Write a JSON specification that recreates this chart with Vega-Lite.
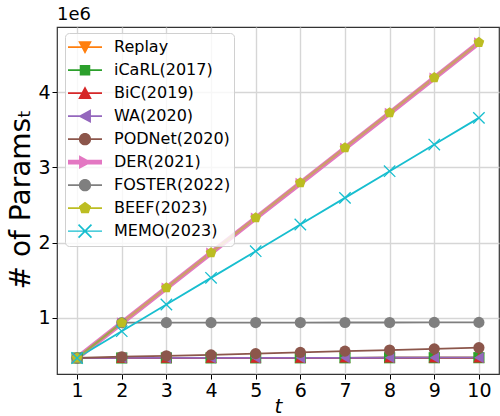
{
  "$schema": "https://vega.github.io/schema/vega-lite/v6.json",
  "width": 442,
  "height": 347,
  "autosize": {"type": "none"},
  "padding": {"left": 57, "top": 27, "right": 1, "bottom": 42},
  "background": "white",
  "title": {"text": "1e6", "anchor": "start", "frame": "group", "fontSize": 18, "fontWeight": "normal", "font": "DejaVu Sans", "color": "black", "offset": 3},
  "config": {
    "font": "DejaVu Sans",
    "view": {"stroke": "#333333", "strokeWidth": 1.2},
    "axis": {"domain": false, "grid": true, "gridColor": "#d6d6d6", "gridWidth": 1.4, "tickColor": "black", "tickSize": 5, "tickWidth": 1, "labelFont": "DejaVu Sans", "labelFontSize": 19, "labelColor": "black", "labelPadding": 2, "titleColor": "black", "titleFont": "DejaVu Sans", "titleFontWeight": "normal"}
  },
  "data": {"values": [
    {"method": "Replay", "t": 1, "params": 463000}, {"method": "Replay", "t": 2, "params": 463000}, {"method": "Replay", "t": 3, "params": 463000}, {"method": "Replay", "t": 4, "params": 463000}, {"method": "Replay", "t": 5, "params": 463000}, {"method": "Replay", "t": 6, "params": 463000}, {"method": "Replay", "t": 7, "params": 463000}, {"method": "Replay", "t": 8, "params": 463000}, {"method": "Replay", "t": 9, "params": 463000}, {"method": "Replay", "t": 10, "params": 463000},
    {"method": "iCaRL(2017)", "t": 1, "params": 463000}, {"method": "iCaRL(2017)", "t": 2, "params": 463500}, {"method": "iCaRL(2017)", "t": 3, "params": 464000}, {"method": "iCaRL(2017)", "t": 4, "params": 464500}, {"method": "iCaRL(2017)", "t": 5, "params": 465000}, {"method": "iCaRL(2017)", "t": 6, "params": 465500}, {"method": "iCaRL(2017)", "t": 7, "params": 466000}, {"method": "iCaRL(2017)", "t": 8, "params": 466500}, {"method": "iCaRL(2017)", "t": 9, "params": 467000}, {"method": "iCaRL(2017)", "t": 10, "params": 467500},
    {"method": "BiC(2019)", "t": 1, "params": 463000}, {"method": "BiC(2019)", "t": 2, "params": 463500}, {"method": "BiC(2019)", "t": 3, "params": 464000}, {"method": "BiC(2019)", "t": 4, "params": 464500}, {"method": "BiC(2019)", "t": 5, "params": 465000}, {"method": "BiC(2019)", "t": 6, "params": 465500}, {"method": "BiC(2019)", "t": 7, "params": 466000}, {"method": "BiC(2019)", "t": 8, "params": 466500}, {"method": "BiC(2019)", "t": 9, "params": 467000}, {"method": "BiC(2019)", "t": 10, "params": 467500},
    {"method": "WA(2020)", "t": 1, "params": 463000}, {"method": "WA(2020)", "t": 2, "params": 463500}, {"method": "WA(2020)", "t": 3, "params": 464000}, {"method": "WA(2020)", "t": 4, "params": 464500}, {"method": "WA(2020)", "t": 5, "params": 465000}, {"method": "WA(2020)", "t": 6, "params": 465500}, {"method": "WA(2020)", "t": 7, "params": 466000}, {"method": "WA(2020)", "t": 8, "params": 466500}, {"method": "WA(2020)", "t": 9, "params": 467000}, {"method": "WA(2020)", "t": 10, "params": 467500},
    {"method": "PODNet(2020)", "t": 1, "params": 463000}, {"method": "PODNet(2020)", "t": 2, "params": 480000}, {"method": "PODNet(2020)", "t": 3, "params": 492000}, {"method": "PODNet(2020)", "t": 4, "params": 505000}, {"method": "PODNet(2020)", "t": 5, "params": 521000}, {"method": "PODNet(2020)", "t": 6, "params": 538000}, {"method": "PODNet(2020)", "t": 7, "params": 554000}, {"method": "PODNet(2020)", "t": 8, "params": 569000}, {"method": "PODNet(2020)", "t": 9, "params": 585000}, {"method": "PODNet(2020)", "t": 10, "params": 600000},
    {"method": "DER(2021)", "t": 1, "params": 463000}, {"method": "DER(2021)", "t": 2, "params": 930000}, {"method": "DER(2021)", "t": 3, "params": 1395000}, {"method": "DER(2021)", "t": 4, "params": 1860000}, {"method": "DER(2021)", "t": 5, "params": 2325000}, {"method": "DER(2021)", "t": 6, "params": 2790000}, {"method": "DER(2021)", "t": 7, "params": 3255000}, {"method": "DER(2021)", "t": 8, "params": 3722000}, {"method": "DER(2021)", "t": 9, "params": 4190000}, {"method": "DER(2021)", "t": 10, "params": 4660000},
    {"method": "FOSTER(2022)", "t": 1, "params": 463000}, {"method": "FOSTER(2022)", "t": 2, "params": 933000}, {"method": "FOSTER(2022)", "t": 3, "params": 934000}, {"method": "FOSTER(2022)", "t": 4, "params": 934000}, {"method": "FOSTER(2022)", "t": 5, "params": 935000}, {"method": "FOSTER(2022)", "t": 6, "params": 935000}, {"method": "FOSTER(2022)", "t": 7, "params": 936000}, {"method": "FOSTER(2022)", "t": 8, "params": 936000}, {"method": "FOSTER(2022)", "t": 9, "params": 937000}, {"method": "FOSTER(2022)", "t": 10, "params": 937000},
    {"method": "BEEF(2023)", "t": 1, "params": 463000}, {"method": "BEEF(2023)", "t": 2, "params": 931000}, {"method": "BEEF(2023)", "t": 3, "params": 1397000}, {"method": "BEEF(2023)", "t": 4, "params": 1863000}, {"method": "BEEF(2023)", "t": 5, "params": 2329000}, {"method": "BEEF(2023)", "t": 6, "params": 2795000}, {"method": "BEEF(2023)", "t": 7, "params": 3261000}, {"method": "BEEF(2023)", "t": 8, "params": 3728000}, {"method": "BEEF(2023)", "t": 9, "params": 4196000}, {"method": "BEEF(2023)", "t": 10, "params": 4665000},
    {"method": "MEMO(2023)", "t": 1, "params": 463000}, {"method": "MEMO(2023)", "t": 2, "params": 820000}, {"method": "MEMO(2023)", "t": 3, "params": 1175000}, {"method": "MEMO(2023)", "t": 4, "params": 1530000}, {"method": "MEMO(2023)", "t": 5, "params": 1885000}, {"method": "MEMO(2023)", "t": 6, "params": 2240000}, {"method": "MEMO(2023)", "t": 7, "params": 2595000}, {"method": "MEMO(2023)", "t": 8, "params": 2950000}, {"method": "MEMO(2023)", "t": 9, "params": 3305000}, {"method": "MEMO(2023)", "t": 10, "params": 3660000}
  ]},
  "encoding": {
    "x": {"field": "t", "type": "quantitative", "scale": {"domain": [0.55, 10.45], "nice": false, "zero": false},
      "axis": {"values": [1, 2, 3, 4, 5, 6, 7, 8, 9, 10], "title": "t", "titleFontStyle": "italic", "titleFontSize": 20, "titleY": 38, "titleBaseline": "alphabetic"}},
    "y": {"field": "params", "type": "quantitative", "scale": {"domain": [250000, 4870000], "nice": false, "zero": false},
      "axis": {"values": [1000000, 2000000, 3000000, 4000000], "labelExpr": "format(datum.value / 1000000, 'd')", "title": "# of Paramsₜ", "titleFontSize": 28, "titleAngle": -90, "titleX": -28, "titleY": 172, "titleBaseline": "alphabetic", "titleAlign": "center"}}
  },
  "resolve": {"scale": {"color": "independent", "shape": "independent"}, "legend": {"color": "independent", "shape": "independent"}},
  "layer": [
    {
      "transform": [{"filter": "datum.method !== 'BEEF(2023)'"}],
      "mark": {"type": "line", "clip": true},
      "encoding": {
        "color": {"field": "method", "type": "nominal",
          "scale": {"domain": ["Replay", "iCaRL(2017)", "BiC(2019)", "WA(2020)", "PODNet(2020)", "DER(2021)", "FOSTER(2022)", "BEEF(2023)", "MEMO(2023)"],
            "range": ["#ff7f0e", "#2ca02c", "#d62728", "#9467bd", "#8c564b", "#e377c2", "#7f7f7f", "#bcbd22", "#17becf"]}, "legend": null},
        "strokeWidth": {"condition": {"test": "datum.method === 'DER(2021)'", "value": 5}, "value": 1.8}
      }
    },
    {
      "transform": [{"filter": "datum.method === 'BEEF(2023)'"}],
      "mark": {"type": "line", "strokeWidth": 2.6, "opacity": 0.55, "color": "#bcbd22"}
    },
    {
      "transform": [{"filter": "datum.method !== 'MEMO(2023)'"}],
      "mark": {"type": "point", "filled": true, "opacity": 1, "size": 125},
      "encoding": {
        "color": {"field": "method", "type": "nominal",
          "scale": {"domain": ["Replay", "iCaRL(2017)", "BiC(2019)", "WA(2020)", "PODNet(2020)", "DER(2021)", "FOSTER(2022)", "BEEF(2023)", "MEMO(2023)"],
            "range": ["#ff7f0e", "#2ca02c", "#d62728", "#9467bd", "#8c564b", "#e377c2", "#7f7f7f", "#bcbd22", "#17becf"]}, "legend": null},
        "shape": {"condition": [
          {"test": "datum.method === 'Replay'", "value": "triangle-down"},
          {"test": "datum.method === 'iCaRL(2017)'", "value": "square"},
          {"test": "datum.method === 'BiC(2019)'", "value": "triangle-up"},
          {"test": "datum.method === 'WA(2020)'", "value": "triangle-left"},
          {"test": "datum.method === 'DER(2021)'", "value": "triangle-right"},
          {"test": "datum.method === 'BEEF(2023)'", "value": "M0,-1L0.951,-0.309L0.588,0.809L-0.588,0.809L-0.951,-0.309Z"}
        ], "value": "circle"}
      }
    },
    {
      "transform": [{"filter": "datum.method === 'MEMO(2023)'"}],
      "mark": {"type": "point", "filled": false, "opacity": 1, "size": 130, "strokeWidth": 1.3, "color": "#17becf", "shape": "M-1,-1L1,1M-1,1L1,-1"}
    },
    {
      "mark": {"type": "point", "filled": true, "opacity": 0},
      "encoding": {
        "color": {"field": "method", "type": "nominal",
          "scale": {"domain": ["Replay", "iCaRL(2017)", "BiC(2019)", "WA(2020)", "PODNet(2020)", "DER(2021)", "FOSTER(2022)", "BEEF(2023)", "MEMO(2023)"],
            "range": ["#ff7f0e", "#2ca02c", "#d62728", "#9467bd", "#8c564b", "#e377c2", "#7f7f7f", "#bcbd22", "#17becf"]},
          "legend": {"title": null, "orient": "none", "legendX": 8, "legendY": 6, "symbolOpacity": 1, "symbolSize": 1156, "symbolStrokeWidth": 0,
            "labelFont": "DejaVu Sans", "labelFontSize": 16, "labelColor": "black", "labelOffset": 12, "rowPadding": 0, "clipHeight": 22.3, "padding": 3,
            "fillColor": "rgba(255,255,255,0.8)", "strokeColor": "#d0d0d0", "cornerRadius": 4}},
        "shape": {"field": "method", "type": "nominal",
          "scale": {"domain": ["Replay", "iCaRL(2017)", "BiC(2019)", "WA(2020)", "PODNet(2020)", "DER(2021)", "FOSTER(2022)", "BEEF(2023)", "MEMO(2023)"],
            "range": [
              "M-1,-0.05H1V0.05H-1Z M-0.4,-0.35L0.4,-0.35L0,0.4Z",
              "M-1,-0.05H1V0.05H-1Z M-0.31,-0.31H0.31V0.31H-0.31Z",
              "M-1,-0.05H1V0.05H-1Z M-0.4,0.35L0,-0.4L0.4,0.35Z",
              "M-1,-0.05H1V0.05H-1Z M0.35,-0.4L0.35,0.4L-0.4,0Z",
              "M-1,-0.05H1V0.05H-1Z M-0.36,0A0.36,0.36,0,1,1,0.36,0A0.36,0.36,0,1,1,-0.36,0Z",
              "M-1,-0.14H1V0.14H-1Z M-0.35,-0.4L0.4,0L-0.35,0.4Z",
              "M-1,-0.05H1V0.05H-1Z M-0.36,0A0.36,0.36,0,1,1,0.36,0A0.36,0.36,0,1,1,-0.36,0Z",
              "M-1,-0.05H1V0.05H-1Z M0,-0.38L0.361,-0.117L0.223,0.307L-0.223,0.307L-0.361,-0.117Z",
              "M-1,-0.04H1V0.04H-1Z M-0.415,-0.345L-0.345,-0.415L0.415,0.345L0.345,0.415Z M-0.415,0.345L0.345,-0.415L0.415,-0.345L-0.345,0.415Z"
            ]},
          "legend": {"title": null, "orient": "none", "legendX": 8, "legendY": 6, "symbolOpacity": 1, "symbolSize": 1156, "symbolStrokeWidth": 0,
            "labelFont": "DejaVu Sans", "labelFontSize": 16, "labelColor": "black", "labelOffset": 12, "rowPadding": 0, "clipHeight": 22.3, "padding": 3,
            "fillColor": "rgba(255,255,255,0.8)", "strokeColor": "#d0d0d0", "cornerRadius": 4}}
      }
    }
  ]
}
